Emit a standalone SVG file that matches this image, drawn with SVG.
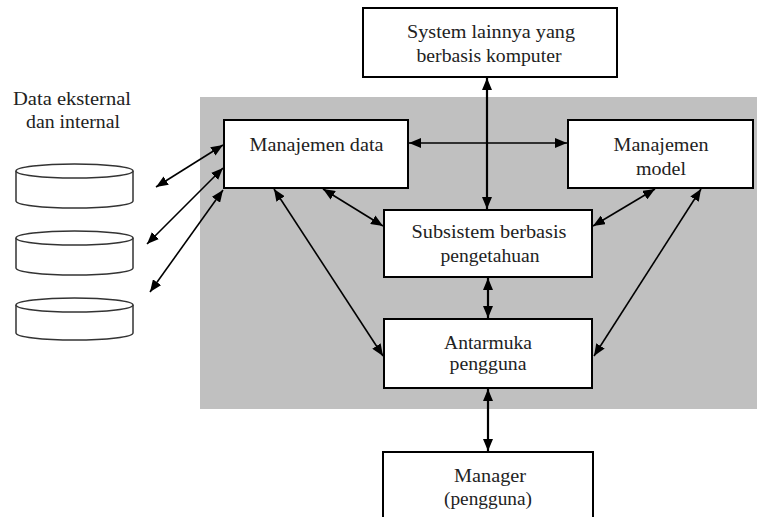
<svg xmlns="http://www.w3.org/2000/svg" width="763" height="517" viewBox="0 0 763 517">
<defs>
<style>
.box{fill:#fff;stroke:#000;stroke-width:2}
.cyl{fill:#fff;stroke:#333;stroke-width:1.5}
.c{stroke:#000;stroke-width:1.6;fill:none;marker-start:url(#ah);marker-end:url(#ah)}
.cv{stroke:#000;stroke-width:2.2;fill:none;marker-start:url(#ah);marker-end:url(#ah)}
</style>
<marker id="ah" viewBox="0 0 12 10" refX="12" refY="5" markerWidth="12" markerHeight="10" markerUnits="userSpaceOnUse" orient="auto-start-reverse">
<path d="M0,0 L12,5 L0,10 z" fill="#000"/>
</marker>
</defs>
<rect x="0" y="0" width="763" height="517" fill="#fff"/>
<rect id="panel" x="200" y="97" width="557" height="312" fill="#c0c0c0"/>

<g font-family="Liberation Serif, DejaVu Serif, serif" font-size="18" fill="#222" text-anchor="middle">
<g id="data-label">
<text x="72" y="105" textLength="118" lengthAdjust="spacingAndGlyphs">Data eksternal</text>
<text x="73" y="128" textLength="94" lengthAdjust="spacingAndGlyphs">dan internal</text>
</g>
</g>
<g id="db1">
<path class="cyl" d="M16,171 V201 A58.5,7 0 0 0 133,201 V171"/>
<ellipse class="cyl" cx="74.5" cy="171" rx="58.5" ry="7"/>
</g>
<g id="db2">
<path class="cyl" d="M16,238 V268 A58.5,7 0 0 0 133,268 V238"/>
<ellipse class="cyl" cx="74.5" cy="238" rx="58.5" ry="7"/>
</g>
<g id="db3">
<path class="cyl" d="M16,305 V333 A58.5,7 0 0 0 133,333 V305"/>
<ellipse class="cyl" cx="74.5" cy="305" rx="58.5" ry="7"/>
</g>

<g id="connectors">
<line class="cv" x1="487" y1="78" x2="487" y2="209"/>
<line class="c" x1="409" y1="143" x2="567" y2="143"/>
<line class="cv" x1="488" y1="278" x2="488" y2="318"/>
<line class="cv" x1="488" y1="389" x2="488" y2="451"/>
<line class="c" x1="323" y1="189" x2="383" y2="226"/>
<line class="c" x1="274" y1="189" x2="383" y2="356"/>
<line class="c" x1="655" y1="189" x2="593" y2="226"/>
<line class="c" x1="701" y1="189" x2="594" y2="356"/>
<line class="c" x1="156" y1="187" x2="223" y2="145"/>
<line class="c" x1="147" y1="244" x2="223" y2="168"/>
<line class="c" x1="150" y1="292" x2="223" y2="190"/>
</g>

<g font-family="Liberation Serif, DejaVu Serif, serif" font-size="18" fill="#222" text-anchor="middle">
<g id="sistem-lain">
<rect class="box" x="363" y="8" width="254" height="69"/>
<text x="491" y="38" textLength="168" lengthAdjust="spacingAndGlyphs">System lainnya yang</text>
<text x="489" y="62" textLength="145" lengthAdjust="spacingAndGlyphs">berbasis komputer</text>
</g>
<g id="manajemen-data">
<rect class="box" x="224" y="120" width="184" height="68"/>
<text x="316.5" y="151" textLength="134" lengthAdjust="spacingAndGlyphs">Manajemen data</text>
</g>
<g id="manajemen-model">
<rect class="box" x="568" y="120" width="185" height="68"/>
<text x="661" y="151" textLength="95" lengthAdjust="spacingAndGlyphs">Manajemen</text>
<text x="661" y="175" textLength="50" lengthAdjust="spacingAndGlyphs">model</text>
</g>
<g id="subsistem">
<rect class="box" x="384" y="210" width="208" height="67"/>
<text x="489" y="238" textLength="155" lengthAdjust="spacingAndGlyphs">Subsistem berbasis</text>
<text x="490" y="262" textLength="99" lengthAdjust="spacingAndGlyphs">pengetahuan</text>
</g>
<g id="antarmuka">
<rect class="box" x="384" y="319" width="208" height="69"/>
<text x="488" y="349" textLength="88" lengthAdjust="spacingAndGlyphs">Antarmuka</text>
<text x="488" y="370" textLength="77" lengthAdjust="spacingAndGlyphs">pengguna</text>
</g>
<g id="manager">
<rect class="box" x="383" y="452" width="210" height="80"/>
<text x="490" y="482" textLength="72" lengthAdjust="spacingAndGlyphs">Manager</text>
<text x="488" y="505" textLength="88" lengthAdjust="spacingAndGlyphs">(pengguna)</text>
</g>
</g>
</svg>
